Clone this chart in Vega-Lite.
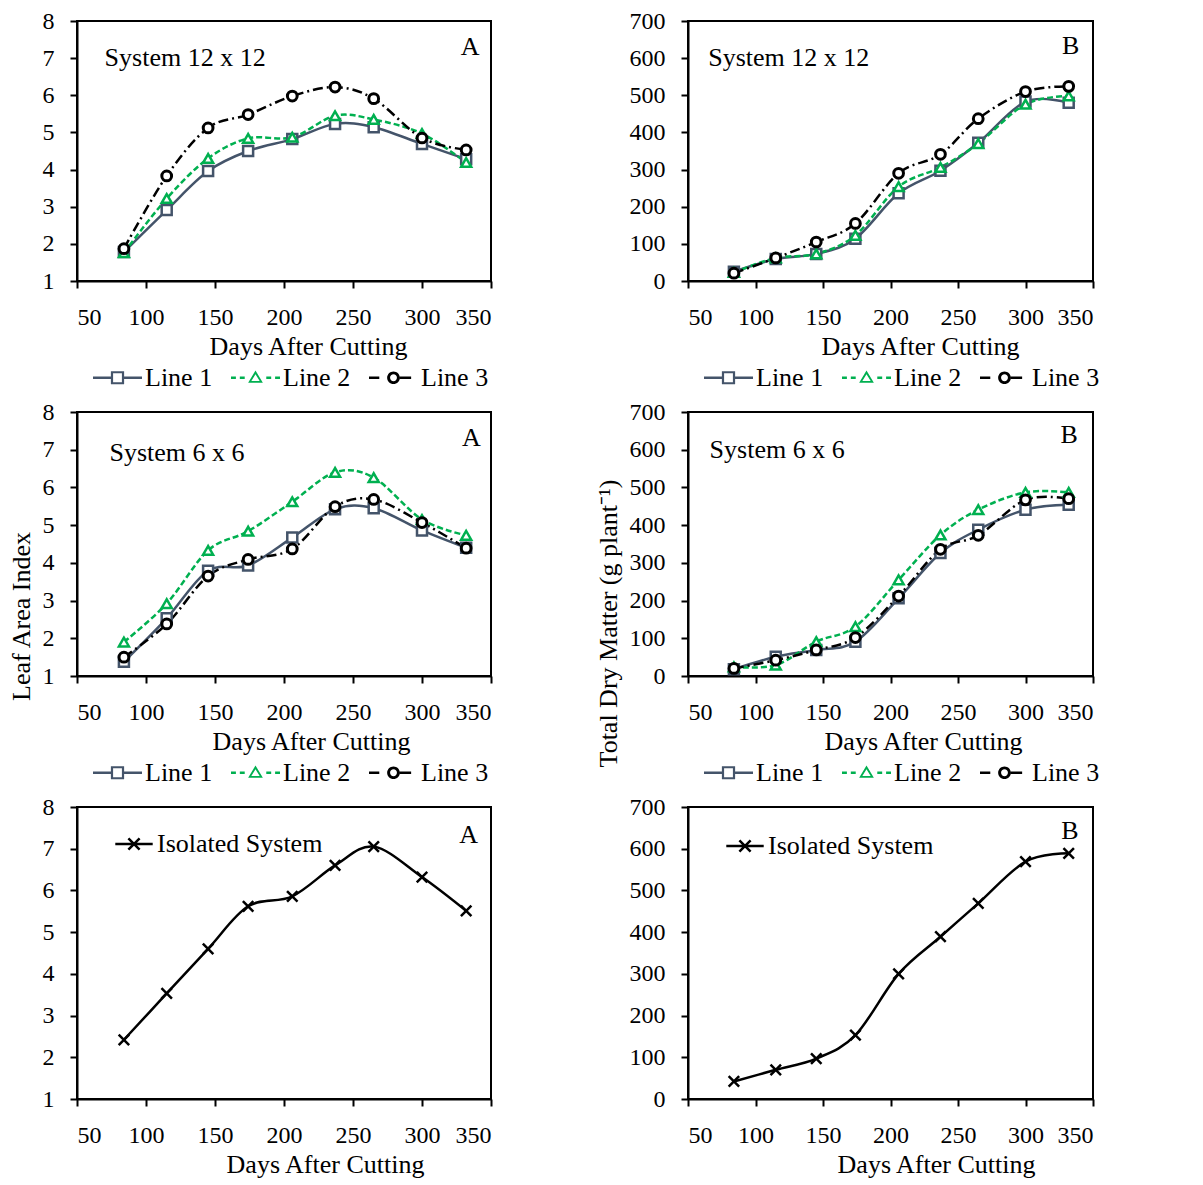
{
  "$schema": "https://vega.github.io/schema/vega-lite/v6.json",
  "background": "white",
  "padding": {"left": 7, "top": 8, "right": 5, "bottom": 5},
  "config": {
    "font": "Liberation Serif",
    "view": {"stroke": "black", "strokeWidth": 2},
    "axis": {"grid": false, "domainColor": "black", "domainWidth": 2, "tickColor": "black", "tickWidth": 2, "tickSize": 7, "labelFont": "Liberation Serif", "labelFontSize": 24, "labelColor": "black", "titleFont": "Liberation Serif", "titleFontSize": 26, "titleFontWeight": "normal", "titleColor": "black"},
    "axisX": {"labelPadding": 17, "titlePadding": 4},
    "axisY": {"labelPadding": 16, "titlePadding": 8},
    "legend": {"orient": "bottom", "direction": "horizontal", "title": null, "labelFont": "Liberation Serif", "labelFontSize": 26, "labelColor": "black", "labelLimit": 0, "symbolStrokeWidth": 0, "symbolSize": 2401, "columnPadding": 18, "labelOffset": 3, "offset": -22, "padding": 16}
  },
  "datasets": {
    "growth": [
      {"panel": "LAI12", "series": "Line 1", "day": 84, "value": 1.78},
      {"panel": "LAI12", "series": "Line 1", "day": 115, "value": 2.91},
      {"panel": "LAI12", "series": "Line 1", "day": 145, "value": 3.96},
      {"panel": "LAI12", "series": "Line 1", "day": 174, "value": 4.5},
      {"panel": "LAI12", "series": "Line 1", "day": 206, "value": 4.82},
      {"panel": "LAI12", "series": "Line 1", "day": 237, "value": 5.23},
      {"panel": "LAI12", "series": "Line 1", "day": 265, "value": 5.14},
      {"panel": "LAI12", "series": "Line 1", "day": 300, "value": 4.69},
      {"panel": "LAI12", "series": "Line 1", "day": 332, "value": 4.28},
      {"panel": "LAI12", "series": "Line 2", "day": 84, "value": 1.76},
      {"panel": "LAI12", "series": "Line 2", "day": 115, "value": 3.22},
      {"panel": "LAI12", "series": "Line 2", "day": 145, "value": 4.3},
      {"panel": "LAI12", "series": "Line 2", "day": 174, "value": 4.84},
      {"panel": "LAI12", "series": "Line 2", "day": 206, "value": 4.87},
      {"panel": "LAI12", "series": "Line 2", "day": 237, "value": 5.45},
      {"panel": "LAI12", "series": "Line 2", "day": 265, "value": 5.35},
      {"panel": "LAI12", "series": "Line 2", "day": 300, "value": 4.97},
      {"panel": "LAI12", "series": "Line 2", "day": 332, "value": 4.19},
      {"panel": "LAI12", "series": "Line 3", "day": 84, "value": 1.87},
      {"panel": "LAI12", "series": "Line 3", "day": 115, "value": 3.83},
      {"panel": "LAI12", "series": "Line 3", "day": 145, "value": 5.12},
      {"panel": "LAI12", "series": "Line 3", "day": 174, "value": 5.48},
      {"panel": "LAI12", "series": "Line 3", "day": 206, "value": 5.98},
      {"panel": "LAI12", "series": "Line 3", "day": 237, "value": 6.22},
      {"panel": "LAI12", "series": "Line 3", "day": 265, "value": 5.91},
      {"panel": "LAI12", "series": "Line 3", "day": 300, "value": 4.85},
      {"panel": "LAI12", "series": "Line 3", "day": 332, "value": 4.53},
      {"panel": "TDM12", "series": "Line 1", "day": 84, "value": 25},
      {"panel": "TDM12", "series": "Line 1", "day": 115, "value": 59},
      {"panel": "TDM12", "series": "Line 1", "day": 145, "value": 73},
      {"panel": "TDM12", "series": "Line 1", "day": 174, "value": 114},
      {"panel": "TDM12", "series": "Line 1", "day": 206, "value": 236},
      {"panel": "TDM12", "series": "Line 1", "day": 237, "value": 297},
      {"panel": "TDM12", "series": "Line 1", "day": 265, "value": 372},
      {"panel": "TDM12", "series": "Line 1", "day": 300, "value": 483},
      {"panel": "TDM12", "series": "Line 1", "day": 332, "value": 480},
      {"panel": "TDM12", "series": "Line 2", "day": 84, "value": 23},
      {"panel": "TDM12", "series": "Line 2", "day": 115, "value": 62},
      {"panel": "TDM12", "series": "Line 2", "day": 145, "value": 73},
      {"panel": "TDM12", "series": "Line 2", "day": 174, "value": 123},
      {"panel": "TDM12", "series": "Line 2", "day": 206, "value": 254},
      {"panel": "TDM12", "series": "Line 2", "day": 237, "value": 306},
      {"panel": "TDM12", "series": "Line 2", "day": 265, "value": 370},
      {"panel": "TDM12", "series": "Line 2", "day": 300, "value": 476},
      {"panel": "TDM12", "series": "Line 2", "day": 332, "value": 498},
      {"panel": "TDM12", "series": "Line 3", "day": 84, "value": 21},
      {"panel": "TDM12", "series": "Line 3", "day": 115, "value": 62},
      {"panel": "TDM12", "series": "Line 3", "day": 145, "value": 105},
      {"panel": "TDM12", "series": "Line 3", "day": 174, "value": 155},
      {"panel": "TDM12", "series": "Line 3", "day": 206, "value": 290},
      {"panel": "TDM12", "series": "Line 3", "day": 237, "value": 341},
      {"panel": "TDM12", "series": "Line 3", "day": 265, "value": 437},
      {"panel": "TDM12", "series": "Line 3", "day": 300, "value": 510},
      {"panel": "TDM12", "series": "Line 3", "day": 332, "value": 524},
      {"panel": "LAI6", "series": "Line 1", "day": 84, "value": 1.38},
      {"panel": "LAI6", "series": "Line 1", "day": 115, "value": 2.53},
      {"panel": "LAI6", "series": "Line 1", "day": 145, "value": 3.79},
      {"panel": "LAI6", "series": "Line 1", "day": 174, "value": 3.93},
      {"panel": "LAI6", "series": "Line 1", "day": 206, "value": 4.67},
      {"panel": "LAI6", "series": "Line 1", "day": 237, "value": 5.42},
      {"panel": "LAI6", "series": "Line 1", "day": 265, "value": 5.45},
      {"panel": "LAI6", "series": "Line 1", "day": 300, "value": 4.86},
      {"panel": "LAI6", "series": "Line 1", "day": 332, "value": 4.4},
      {"panel": "LAI6", "series": "Line 2", "day": 84, "value": 1.9},
      {"panel": "LAI6", "series": "Line 2", "day": 115, "value": 2.92},
      {"panel": "LAI6", "series": "Line 2", "day": 145, "value": 4.33},
      {"panel": "LAI6", "series": "Line 2", "day": 174, "value": 4.84},
      {"panel": "LAI6", "series": "Line 2", "day": 206, "value": 5.62},
      {"panel": "LAI6", "series": "Line 2", "day": 237, "value": 6.4},
      {"panel": "LAI6", "series": "Line 2", "day": 265, "value": 6.26},
      {"panel": "LAI6", "series": "Line 2", "day": 300, "value": 5.15},
      {"panel": "LAI6", "series": "Line 2", "day": 332, "value": 4.73},
      {"panel": "LAI6", "series": "Line 3", "day": 84, "value": 1.5},
      {"panel": "LAI6", "series": "Line 3", "day": 115, "value": 2.38},
      {"panel": "LAI6", "series": "Line 3", "day": 145, "value": 3.65},
      {"panel": "LAI6", "series": "Line 3", "day": 174, "value": 4.09},
      {"panel": "LAI6", "series": "Line 3", "day": 206, "value": 4.37},
      {"panel": "LAI6", "series": "Line 3", "day": 237, "value": 5.49},
      {"panel": "LAI6", "series": "Line 3", "day": 265, "value": 5.68},
      {"panel": "LAI6", "series": "Line 3", "day": 300, "value": 5.07},
      {"panel": "LAI6", "series": "Line 3", "day": 332, "value": 4.39},
      {"panel": "TDM6", "series": "Line 1", "day": 84, "value": 18},
      {"panel": "TDM6", "series": "Line 1", "day": 115, "value": 51},
      {"panel": "TDM6", "series": "Line 1", "day": 145, "value": 69},
      {"panel": "TDM6", "series": "Line 1", "day": 174, "value": 91},
      {"panel": "TDM6", "series": "Line 1", "day": 206, "value": 206},
      {"panel": "TDM6", "series": "Line 1", "day": 237, "value": 326},
      {"panel": "TDM6", "series": "Line 1", "day": 265, "value": 388},
      {"panel": "TDM6", "series": "Line 1", "day": 300, "value": 441},
      {"panel": "TDM6", "series": "Line 1", "day": 332, "value": 454},
      {"panel": "TDM6", "series": "Line 2", "day": 84, "value": 24},
      {"panel": "TDM6", "series": "Line 2", "day": 115, "value": 29},
      {"panel": "TDM6", "series": "Line 2", "day": 145, "value": 91},
      {"panel": "TDM6", "series": "Line 2", "day": 174, "value": 131},
      {"panel": "TDM6", "series": "Line 2", "day": 206, "value": 255},
      {"panel": "TDM6", "series": "Line 2", "day": 237, "value": 374},
      {"panel": "TDM6", "series": "Line 2", "day": 265, "value": 441},
      {"panel": "TDM6", "series": "Line 2", "day": 300, "value": 487},
      {"panel": "TDM6", "series": "Line 2", "day": 332, "value": 487},
      {"panel": "TDM6", "series": "Line 3", "day": 84, "value": 20},
      {"panel": "TDM6", "series": "Line 3", "day": 115, "value": 42},
      {"panel": "TDM6", "series": "Line 3", "day": 145, "value": 69},
      {"panel": "TDM6", "series": "Line 3", "day": 174, "value": 102},
      {"panel": "TDM6", "series": "Line 3", "day": 206, "value": 212},
      {"panel": "TDM6", "series": "Line 3", "day": 237, "value": 336},
      {"panel": "TDM6", "series": "Line 3", "day": 265, "value": 373},
      {"panel": "TDM6", "series": "Line 3", "day": 300, "value": 467},
      {"panel": "TDM6", "series": "Line 3", "day": 332, "value": 470},
      {"panel": "LAIiso", "series": "Isolated System", "day": 84, "value": 2.42},
      {"panel": "LAIiso", "series": "Isolated System", "day": 115, "value": 3.53},
      {"panel": "LAIiso", "series": "Isolated System", "day": 145, "value": 4.6},
      {"panel": "LAIiso", "series": "Isolated System", "day": 174, "value": 5.62},
      {"panel": "LAIiso", "series": "Isolated System", "day": 206, "value": 5.86},
      {"panel": "LAIiso", "series": "Isolated System", "day": 237, "value": 6.6},
      {"panel": "LAIiso", "series": "Isolated System", "day": 265, "value": 7.05},
      {"panel": "LAIiso", "series": "Isolated System", "day": 300, "value": 6.32},
      {"panel": "LAIiso", "series": "Isolated System", "day": 332, "value": 5.51},
      {"panel": "TDMiso", "series": "Isolated System", "day": 84, "value": 42},
      {"panel": "TDMiso", "series": "Isolated System", "day": 115, "value": 70},
      {"panel": "TDMiso", "series": "Isolated System", "day": 145, "value": 97},
      {"panel": "TDMiso", "series": "Isolated System", "day": 174, "value": 153},
      {"panel": "TDMiso", "series": "Isolated System", "day": 206, "value": 300},
      {"panel": "TDMiso", "series": "Isolated System", "day": 237, "value": 389},
      {"panel": "TDMiso", "series": "Isolated System", "day": 265, "value": 469},
      {"panel": "TDMiso", "series": "Isolated System", "day": 300, "value": 569},
      {"panel": "TDMiso", "series": "Isolated System", "day": 332, "value": 589}
    ],
    "notes": [
      {"panel": "LAI12", "day": 70, "value": 7.0, "label": "System 12 x 12"},
      {"panel": "LAI12", "day": 328, "value": 7.3, "label": "A"},
      {"panel": "TDM12", "day": 65, "value": 600, "label": "System 12 x 12"},
      {"panel": "TDM12", "day": 327, "value": 632, "label": "B"},
      {"panel": "LAI6", "day": 73.5, "value": 6.91, "label": "System 6 x 6"},
      {"panel": "LAI6", "day": 329, "value": 7.32, "label": "A"},
      {"panel": "TDM6", "day": 66, "value": 600, "label": "System 6 x 6"},
      {"panel": "TDM6", "day": 326, "value": 639, "label": "B"},
      {"panel": "LAIiso", "day": 327, "value": 7.33, "label": "A"},
      {"panel": "TDMiso", "day": 326.5, "value": 642, "label": "B"}
    ]
  },
  "concat": [
    {
      "width": 414, "height": 260,
      "data": {"name": "growth"},
      "encoding": {
        "x": {"field": "day", "type": "quantitative", "scale": {"domain": [50, 350], "nice": false}, "axis": {"values": [50, 100, 150, 200, 250, 300, 350], "title": "Days After Cutting", "titleX": 231}},
        "y": {"field": "value", "type": "quantitative", "scale": {"domain": [1, 8], "nice": false, "zero": false}, "axis": {"values": [1, 2, 3, 4, 5, 6, 7, 8], "title": null}}
      },
      "layer": [
        {"transform": [{"filter": "datum.panel === 'LAI12' && datum.series === 'Line 1'"}], "mark": {"type": "line", "interpolate": "cardinal", "strokeWidth": 2.5, "stroke": "#44546A"}},
        {"transform": [{"filter": "datum.panel === 'LAI12' && datum.series === 'Line 2'"}], "mark": {"type": "line", "interpolate": "cardinal", "strokeWidth": 2.5, "stroke": "#00B050", "strokeDash": [6, 3]}},
        {"transform": [{"filter": "datum.panel === 'LAI12' && datum.series === 'Line 3'"}], "mark": {"type": "line", "interpolate": "cardinal", "strokeWidth": 2.5, "stroke": "#000000", "strokeDash": [10, 4, 2, 4]}},
        {"transform": [{"filter": "datum.panel === 'LAI12' && datum.series === 'Line 1'"}], "mark": {"type": "point", "shape": "square", "filled": false, "fill": "white", "stroke": "#44546A", "size": 100, "strokeWidth": 2.5, "opacity": 1}},
        {"transform": [{"filter": "datum.panel === 'LAI12' && datum.series === 'Line 2'"}], "mark": {"type": "point", "shape": "triangle-up", "filled": false, "fill": "white", "stroke": "#00B050", "size": 100, "strokeWidth": 2.5, "opacity": 1}},
        {"transform": [{"filter": "datum.panel === 'LAI12' && datum.series === 'Line 3'"}], "mark": {"type": "point", "shape": "circle", "filled": false, "fill": "white", "stroke": "#000000", "size": 95, "strokeWidth": 3, "opacity": 1}},
        {"transform": [{"filter": "false"}],
         "mark": {"type": "point", "filled": true, "size": 2401, "strokeWidth": 0, "opacity": 1},
         "encoding": {
           "color": {"field": "series", "type": "nominal", "scale": {"domain": ["Line 1", "Line 2", "Line 3"], "range": ["#44546A", "#00B050", "#000000"]}},
           "shape": {"field": "series", "type": "nominal", "scale": {"domain": ["Line 1", "Line 2", "Line 3"], "range": ["M-1,-0.05H-0.26V0.05H-1Z M0.26,-0.05H1V0.05H0.26Z M-0.27,-0.27H0.27V0.27H-0.27Z M-0.18,-0.18V0.18H0.18V-0.18Z", "M-1,-0.05H-0.8V0.05H-1Z M-0.64,-0.05H-0.44V0.05H-0.64Z M0.44,-0.05H0.64V0.05H0.44Z M0.8,-0.05H1V0.05H0.8Z M0,-0.3L0.3,0.2H-0.3Z M0,-0.14L-0.17,0.13H0.17Z", "M-1,-0.05H-0.58V0.05H-1Z M-0.26,0A0.26,0.26 0 1,1 0.26,0A0.26,0.26 0 1,1 -0.26,0Z M-0.14,0A0.14,0.14 0 1,0 0.14,0A0.14,0.14 0 1,0 -0.14,0Z M0.26,-0.05H0.72V0.05H0.26Z"]}}
         }},
        {"data": {"name": "notes"}, "transform": [{"filter": "datum.panel === 'LAI12'"}],
         "mark": {"type": "text", "align": "left", "baseline": "middle", "fontSize": 26, "font": "Liberation Serif", "color": "black"},
         "encoding": {"text": {"field": "label", "type": "nominal"}}}
      ]
    },
    {
      "width": 405, "height": 260,
      "data": {"name": "growth"},
      "encoding": {
        "x": {"field": "day", "type": "quantitative", "scale": {"domain": [50, 350], "nice": false}, "axis": {"values": [50, 100, 150, 200, 250, 300, 350], "title": "Days After Cutting", "titleX": 232}},
        "y": {"field": "value", "type": "quantitative", "scale": {"domain": [0, 700], "nice": false}, "axis": {"values": [0, 100, 200, 300, 400, 500, 600, 700], "title": null}}
      },
      "layer": [
        {"transform": [{"filter": "datum.panel === 'TDM12' && datum.series === 'Line 1'"}], "mark": {"type": "line", "interpolate": "cardinal", "strokeWidth": 2.5, "stroke": "#44546A"}},
        {"transform": [{"filter": "datum.panel === 'TDM12' && datum.series === 'Line 2'"}], "mark": {"type": "line", "interpolate": "cardinal", "strokeWidth": 2.5, "stroke": "#00B050", "strokeDash": [6, 3]}},
        {"transform": [{"filter": "datum.panel === 'TDM12' && datum.series === 'Line 3'"}], "mark": {"type": "line", "interpolate": "cardinal", "strokeWidth": 2.5, "stroke": "#000000", "strokeDash": [10, 4, 2, 4]}},
        {"transform": [{"filter": "datum.panel === 'TDM12' && datum.series === 'Line 1'"}], "mark": {"type": "point", "shape": "square", "filled": false, "fill": "white", "stroke": "#44546A", "size": 100, "strokeWidth": 2.5, "opacity": 1}},
        {"transform": [{"filter": "datum.panel === 'TDM12' && datum.series === 'Line 2'"}], "mark": {"type": "point", "shape": "triangle-up", "filled": false, "fill": "white", "stroke": "#00B050", "size": 100, "strokeWidth": 2.5, "opacity": 1}},
        {"transform": [{"filter": "datum.panel === 'TDM12' && datum.series === 'Line 3'"}], "mark": {"type": "point", "shape": "circle", "filled": false, "fill": "white", "stroke": "#000000", "size": 95, "strokeWidth": 3, "opacity": 1}},
        {"transform": [{"filter": "false"}],
         "mark": {"type": "point", "filled": true, "size": 2401, "strokeWidth": 0, "opacity": 1},
         "encoding": {
           "color": {"field": "series", "type": "nominal", "scale": {"domain": ["Line 1", "Line 2", "Line 3"], "range": ["#44546A", "#00B050", "#000000"]}},
           "shape": {"field": "series", "type": "nominal", "scale": {"domain": ["Line 1", "Line 2", "Line 3"], "range": ["M-1,-0.05H-0.26V0.05H-1Z M0.26,-0.05H1V0.05H0.26Z M-0.27,-0.27H0.27V0.27H-0.27Z M-0.18,-0.18V0.18H0.18V-0.18Z", "M-1,-0.05H-0.8V0.05H-1Z M-0.64,-0.05H-0.44V0.05H-0.64Z M0.44,-0.05H0.64V0.05H0.44Z M0.8,-0.05H1V0.05H0.8Z M0,-0.3L0.3,0.2H-0.3Z M0,-0.14L-0.17,0.13H0.17Z", "M-1,-0.05H-0.58V0.05H-1Z M-0.26,0A0.26,0.26 0 1,1 0.26,0A0.26,0.26 0 1,1 -0.26,0Z M-0.14,0A0.14,0.14 0 1,0 0.14,0A0.14,0.14 0 1,0 -0.14,0Z M0.26,-0.05H0.72V0.05H0.26Z"]}}
         }},
        {"data": {"name": "notes"}, "transform": [{"filter": "datum.panel === 'TDM12'"}],
         "mark": {"type": "text", "align": "left", "baseline": "middle", "fontSize": 26, "font": "Liberation Serif", "color": "black"},
         "encoding": {"text": {"field": "label", "type": "nominal"}}}
      ]
    },
    {
      "width": 414, "height": 264,
      "data": {"name": "growth"},
      "encoding": {
        "x": {"field": "day", "type": "quantitative", "scale": {"domain": [50, 350], "nice": false}, "axis": {"values": [50, 100, 150, 200, 250, 300, 350], "title": "Days After Cutting", "titleX": 234}},
        "y": {"field": "value", "type": "quantitative", "scale": {"domain": [1, 8], "nice": false, "zero": false}, "axis": {"values": [1, 2, 3, 4, 5, 6, 7, 8], "title": "Leaf Area Index", "titleY": 204}}
      },
      "layer": [
        {"transform": [{"filter": "datum.panel === 'LAI6' && datum.series === 'Line 1'"}], "mark": {"type": "line", "interpolate": "cardinal", "strokeWidth": 2.5, "stroke": "#44546A"}},
        {"transform": [{"filter": "datum.panel === 'LAI6' && datum.series === 'Line 2'"}], "mark": {"type": "line", "interpolate": "cardinal", "strokeWidth": 2.5, "stroke": "#00B050", "strokeDash": [6, 3]}},
        {"transform": [{"filter": "datum.panel === 'LAI6' && datum.series === 'Line 3'"}], "mark": {"type": "line", "interpolate": "cardinal", "strokeWidth": 2.5, "stroke": "#000000", "strokeDash": [10, 4, 2, 4]}},
        {"transform": [{"filter": "datum.panel === 'LAI6' && datum.series === 'Line 1'"}], "mark": {"type": "point", "shape": "square", "filled": false, "fill": "white", "stroke": "#44546A", "size": 100, "strokeWidth": 2.5, "opacity": 1}},
        {"transform": [{"filter": "datum.panel === 'LAI6' && datum.series === 'Line 2'"}], "mark": {"type": "point", "shape": "triangle-up", "filled": false, "fill": "white", "stroke": "#00B050", "size": 100, "strokeWidth": 2.5, "opacity": 1}},
        {"transform": [{"filter": "datum.panel === 'LAI6' && datum.series === 'Line 3'"}], "mark": {"type": "point", "shape": "circle", "filled": false, "fill": "white", "stroke": "#000000", "size": 95, "strokeWidth": 3, "opacity": 1}},
        {"transform": [{"filter": "false"}],
         "mark": {"type": "point", "filled": true, "size": 2401, "strokeWidth": 0, "opacity": 1},
         "encoding": {
           "color": {"field": "series", "type": "nominal", "scale": {"domain": ["Line 1", "Line 2", "Line 3"], "range": ["#44546A", "#00B050", "#000000"]}},
           "shape": {"field": "series", "type": "nominal", "scale": {"domain": ["Line 1", "Line 2", "Line 3"], "range": ["M-1,-0.05H-0.26V0.05H-1Z M0.26,-0.05H1V0.05H0.26Z M-0.27,-0.27H0.27V0.27H-0.27Z M-0.18,-0.18V0.18H0.18V-0.18Z", "M-1,-0.05H-0.8V0.05H-1Z M-0.64,-0.05H-0.44V0.05H-0.64Z M0.44,-0.05H0.64V0.05H0.44Z M0.8,-0.05H1V0.05H0.8Z M0,-0.3L0.3,0.2H-0.3Z M0,-0.14L-0.17,0.13H0.17Z", "M-1,-0.05H-0.58V0.05H-1Z M-0.26,0A0.26,0.26 0 1,1 0.26,0A0.26,0.26 0 1,1 -0.26,0Z M-0.14,0A0.14,0.14 0 1,0 0.14,0A0.14,0.14 0 1,0 -0.14,0Z M0.26,-0.05H0.72V0.05H0.26Z"]}}
         }},
        {"data": {"name": "notes"}, "transform": [{"filter": "datum.panel === 'LAI6'"}],
         "mark": {"type": "text", "align": "left", "baseline": "middle", "fontSize": 26, "font": "Liberation Serif", "color": "black"},
         "encoding": {"text": {"field": "label", "type": "nominal"}}}
      ]
    },
    {
      "width": 405, "height": 264,
      "data": {"name": "growth"},
      "encoding": {
        "x": {"field": "day", "type": "quantitative", "scale": {"domain": [50, 350], "nice": false}, "axis": {"values": [50, 100, 150, 200, 250, 300, 350], "title": "Days After Cutting", "titleX": 235}},
        "y": {"field": "value", "type": "quantitative", "scale": {"domain": [0, 700], "nice": false}, "axis": {"values": [0, 100, 200, 300, 400, 500, 600, 700], "title": "Total Dry Matter (g plant⁻¹)", "titleY": 211}}
      },
      "layer": [
        {"transform": [{"filter": "datum.panel === 'TDM6' && datum.series === 'Line 1'"}], "mark": {"type": "line", "interpolate": "cardinal", "strokeWidth": 2.5, "stroke": "#44546A"}},
        {"transform": [{"filter": "datum.panel === 'TDM6' && datum.series === 'Line 2'"}], "mark": {"type": "line", "interpolate": "cardinal", "strokeWidth": 2.5, "stroke": "#00B050", "strokeDash": [6, 3]}},
        {"transform": [{"filter": "datum.panel === 'TDM6' && datum.series === 'Line 3'"}], "mark": {"type": "line", "interpolate": "cardinal", "strokeWidth": 2.5, "stroke": "#000000", "strokeDash": [10, 4, 2, 4]}},
        {"transform": [{"filter": "datum.panel === 'TDM6' && datum.series === 'Line 1'"}], "mark": {"type": "point", "shape": "square", "filled": false, "fill": "white", "stroke": "#44546A", "size": 100, "strokeWidth": 2.5, "opacity": 1}},
        {"transform": [{"filter": "datum.panel === 'TDM6' && datum.series === 'Line 2'"}], "mark": {"type": "point", "shape": "triangle-up", "filled": false, "fill": "white", "stroke": "#00B050", "size": 100, "strokeWidth": 2.5, "opacity": 1}},
        {"transform": [{"filter": "datum.panel === 'TDM6' && datum.series === 'Line 3'"}], "mark": {"type": "point", "shape": "circle", "filled": false, "fill": "white", "stroke": "#000000", "size": 95, "strokeWidth": 3, "opacity": 1}},
        {"transform": [{"filter": "false"}],
         "mark": {"type": "point", "filled": true, "size": 2401, "strokeWidth": 0, "opacity": 1},
         "encoding": {
           "color": {"field": "series", "type": "nominal", "scale": {"domain": ["Line 1", "Line 2", "Line 3"], "range": ["#44546A", "#00B050", "#000000"]}},
           "shape": {"field": "series", "type": "nominal", "scale": {"domain": ["Line 1", "Line 2", "Line 3"], "range": ["M-1,-0.05H-0.26V0.05H-1Z M0.26,-0.05H1V0.05H0.26Z M-0.27,-0.27H0.27V0.27H-0.27Z M-0.18,-0.18V0.18H0.18V-0.18Z", "M-1,-0.05H-0.8V0.05H-1Z M-0.64,-0.05H-0.44V0.05H-0.64Z M0.44,-0.05H0.64V0.05H0.44Z M0.8,-0.05H1V0.05H0.8Z M0,-0.3L0.3,0.2H-0.3Z M0,-0.14L-0.17,0.13H0.17Z", "M-1,-0.05H-0.58V0.05H-1Z M-0.26,0A0.26,0.26 0 1,1 0.26,0A0.26,0.26 0 1,1 -0.26,0Z M-0.14,0A0.14,0.14 0 1,0 0.14,0A0.14,0.14 0 1,0 -0.14,0Z M0.26,-0.05H0.72V0.05H0.26Z"]}}
         }},
        {"data": {"name": "notes"}, "transform": [{"filter": "datum.panel === 'TDM6'"}],
         "mark": {"type": "text", "align": "left", "baseline": "middle", "fontSize": 26, "font": "Liberation Serif", "color": "black"},
         "encoding": {"text": {"field": "label", "type": "nominal"}}}
      ]
    },
    {
      "width": 414, "height": 292,
      "data": {"name": "growth"},
      "encoding": {
        "x": {"field": "day", "type": "quantitative", "scale": {"domain": [50, 350], "nice": false}, "axis": {"values": [50, 100, 150, 200, 250, 300, 350], "title": "Days After Cutting", "titleX": 248}},
        "y": {"field": "value", "type": "quantitative", "scale": {"domain": [1, 8], "nice": false, "zero": false}, "axis": {"values": [1, 2, 3, 4, 5, 6, 7, 8], "title": null}}
      },
      "layer": [
        {"transform": [{"filter": "datum.panel === 'LAIiso'"}],
         "mark": {"type": "line", "interpolate": "cardinal", "strokeWidth": 2.5},
         "encoding": {
           "color": {"field": "series", "type": "nominal", "scale": {"domain": ["Isolated System"], "range": ["#000000"]},
             "legend": {"orient": "none", "legendX": 37, "legendY": 17, "padding": 0, "direction": "vertical", "symbolSize": 1400, "symbolType": "M-1,0H1M-0.3,-0.3L0.3,0.3M-0.3,0.3L0.3,-0.3", "symbolStrokeWidth": 2.5}}
         }},
        {"transform": [{"filter": "datum.panel === 'LAIiso'"}],
         "mark": {"type": "point", "filled": false, "shape": "M-1,-1L1,1M-1,1L1,-1", "size": 110, "strokeWidth": 2.5, "stroke": "black", "opacity": 1}},
        {"data": {"name": "notes"}, "transform": [{"filter": "datum.panel === 'LAIiso'"}],
         "mark": {"type": "text", "align": "left", "baseline": "middle", "fontSize": 26, "font": "Liberation Serif", "color": "black"},
         "encoding": {"text": {"field": "label", "type": "nominal"}}}
      ]
    },
    {
      "width": 405, "height": 292,
      "data": {"name": "growth"},
      "encoding": {
        "x": {"field": "day", "type": "quantitative", "scale": {"domain": [50, 350], "nice": false}, "axis": {"values": [50, 100, 150, 200, 250, 300, 350], "title": "Days After Cutting", "titleX": 248}},
        "y": {"field": "value", "type": "quantitative", "scale": {"domain": [0, 700], "nice": false}, "axis": {"values": [0, 100, 200, 300, 400, 500, 600, 700], "title": null}}
      },
      "layer": [
        {"transform": [{"filter": "datum.panel === 'TDMiso'"}],
         "mark": {"type": "line", "interpolate": "cardinal", "strokeWidth": 2.5},
         "encoding": {
           "color": {"field": "series", "type": "nominal", "scale": {"domain": ["Isolated System"], "range": ["#000000"]},
             "legend": {"orient": "none", "legendX": 37, "legendY": 19, "padding": 0, "direction": "vertical", "symbolSize": 1400, "symbolType": "M-1,0H1M-0.3,-0.3L0.3,0.3M-0.3,0.3L0.3,-0.3", "symbolStrokeWidth": 2.5}}
         }},
        {"transform": [{"filter": "datum.panel === 'TDMiso'"}],
         "mark": {"type": "point", "filled": false, "shape": "M-1,-1L1,1M-1,1L1,-1", "size": 110, "strokeWidth": 2.5, "stroke": "black", "opacity": 1}},
        {"data": {"name": "notes"}, "transform": [{"filter": "datum.panel === 'TDMiso'"}],
         "mark": {"type": "text", "align": "left", "baseline": "middle", "fontSize": 26, "font": "Liberation Serif", "color": "black"},
         "encoding": {"text": {"field": "label", "type": "nominal"}}}
      ]
    }
  ],
  "columns": 2,
  "align": "each",
  "bounds": "flush",
  "spacing": {"row": 131, "column": 197},
  "resolve": {"scale": {"x": "independent", "y": "independent", "color": "independent", "shape": "independent"}, "legend": {"color": "independent", "shape": "independent"}}
}
